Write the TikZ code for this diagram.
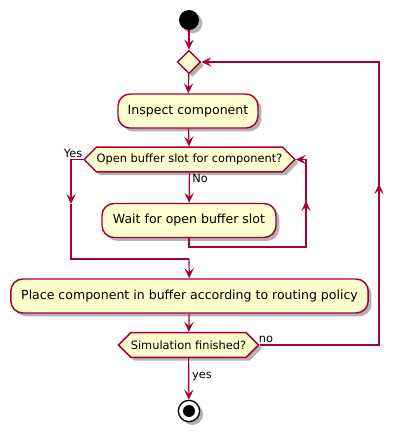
\documentclass[tikz,border=0pt]{standalone}
\usepackage{fontspec}
\setmainfont{DejaVu Sans}
\usetikzlibrary{shapes.geometric, shapes.symbols, arrows.meta, shadows}
\definecolor{umlred}{HTML}{A80036}
\definecolor{umlfill}{HTML}{FEFECE}

\begin{document}
\begin{tikzpicture}[x=0.75pt,y=-0.75pt]
      \tikzset{umlshadow/.style={drop shadow={shadow xshift=2.5pt, shadow yshift=-2.5pt, opacity=0.3, fill=black}},
        activity/.style={draw=umlred, fill=umlfill, line width=1.1pt,
          rounded corners=9pt, inner sep=0pt, minimum height=25.5pt,
          font=\fontsize{9.4}{11}\selectfont, umlshadow},
        decision/.style={draw=umlred, fill=umlfill, line width=1.1pt,
          signal, signal to=west and east, signal pointer angle=90,
          inner sep=0pt, minimum height=18.5pt,
          font=\fontsize{8.55}{10}\selectfont, umlshadow},
        merge/.style={draw=umlred, fill=umlfill, line width=1.1pt, diamond,
          inner sep=0pt, minimum size=17.5pt, umlshadow},
        line/.style={draw=umlred, line width=0.9pt},
        flow/.style={line, -{Stealth[length=7.5pt, width=7pt, inset=3pt]}},
        guard/.style={font=\fontsize{8.5}{10}\selectfont, inner sep=0pt}
      }
      \useasboundingbox (0,0) rectangle (404,437);
      % nodes
      \node [circle, fill=black, minimum size=15pt, inner sep=0pt, umlshadow] (start) at (189,20) {};
      \node [merge] (loop) at (189,62) {};
      \node [activity, minimum width=105pt] (inspect) at (188,111) {Inspect component};
      \node [decision, minimum width=158pt] (slot) at (189.5,159.5) {Open buffer slot for component?};
      \node [activity, minimum width=130.5pt] (wait) at (189,220.5) {Wait for open buffer slot};
      \node [activity, minimum width=268pt] (place) at (189.5,296) {Place component in buffer according to routing policy};
      \node [decision, minimum width=104pt] (finished) at (188.5,345) {Simulation finished?};
      \node [circle, draw=black, fill=white, line width=1pt, minimum size=16pt, inner sep=0pt, umlshadow] (stop) at (189,411) {};
      \node [circle, fill=black, minimum size=9pt, inner sep=0pt] (stopdot) at (stop) {};
      % helper points
      \coordinate (yes turn) at (71,159.5);
      \coordinate (yes arrow) at (71,204);
      \coordinate (yes corner) at (71,259);
      \coordinate (join) at (189,259);
      \coordinate (wait turn) at (189,247);
      \coordinate (wait corner) at (306,247);
      \coordinate (wait arrow) at (306,201);
      \coordinate (wait top) at (306,159.5);
      \coordinate (no corner) at (379,345);
      \coordinate (no arrow) at (379,184);
      \coordinate (no top) at (379,62);
      % connectors
      \draw [flow] (start) -- (loop);
      \draw [flow] (loop) -- (inspect);
      \draw [flow] (inspect) -- (slot);
      \draw [flow] (slot) -- (wait);
      \draw [flow] (slot.west) -- (yes turn) -- (yes arrow);
      \draw [line] (yes arrow) -- (yes corner) -- (join);
      \draw [line] (wait) -- (wait turn) -- (wait corner) -- (wait arrow);
      \draw [flow] (wait corner) -- (wait arrow);
      \draw [flow] (wait arrow) -- (wait top) -- (slot.east);
      \draw [flow] (join) -- (place);
      \draw [flow] (place) -- (finished);
      \draw [line] (finished.east) -- (no corner) -- (no arrow);
      \draw [flow] (no corner) -- (no arrow);
      \draw [flow] (no arrow) -- (no top) -- (loop.east);
      \draw [flow] (finished) -- (stop);
      % guards
      \node [guard] (yes label) at (73,153) {Yes};
      \node [guard] (no label) at (200,178) {No};
      \node [guard] (again label) at (266,339.5) {no};
      \node [guard] (done label) at (202,376) {yes};
    \end{tikzpicture}
\end{document}
